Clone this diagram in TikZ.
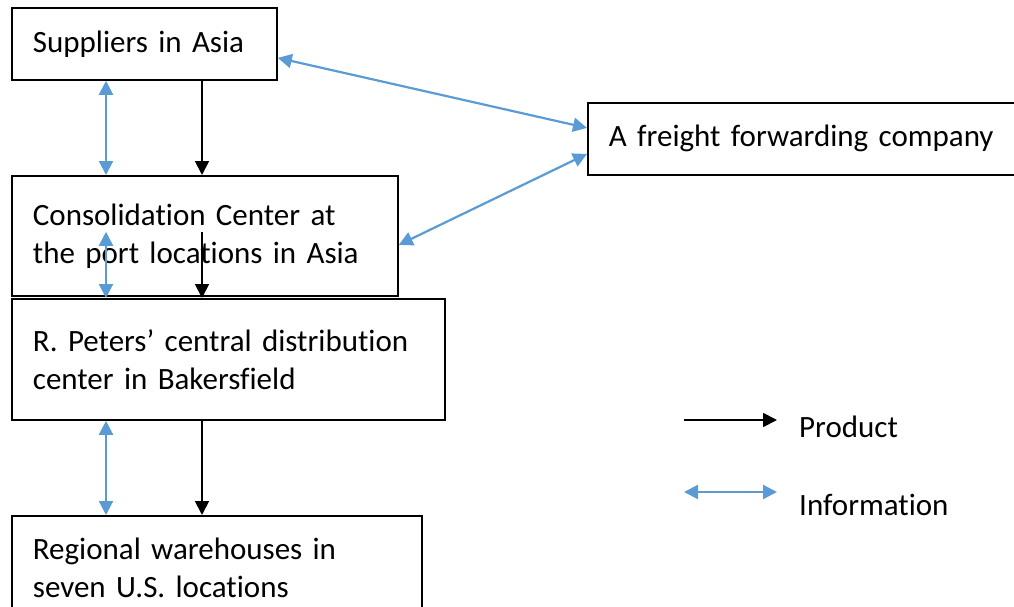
\documentclass[tikz,border=0pt]{standalone}
\usepackage{fontspec}
\setmainfont[Ligatures=NoCommon,WordSpace=0.75]{Carlito}
\usetikzlibrary{positioning,arrows.meta,calc}
\definecolor{infoblue}{HTML}{5B9BD5}

\begin{document}
\begin{tikzpicture}[x=1pt,y=-1pt,
  box/.style={draw=black,line width=1.8pt,anchor=north west,align=left,inner xsep=21pt,
              inner ysep=0pt,font=\fontsize{31}{38}\selectfont},
  prod/.style={-{Triangle[length=14pt,width=14pt]},black,line width=1.8pt},
  info/.style={{Triangle[length=14pt,width=14pt]}-{Triangle[length=14pt,width=14pt]},
               infoblue,line width=2.2pt},
  lbl/.style={anchor=base west,font=\fontsize{31}{38}\selectfont,inner sep=0pt}]
\useasboundingbox (0,0) rectangle (1014,607);
\node[box,minimum width=265pt,minimum height=72pt,text width=223pt] (sup) at (11,7) {Suppliers in Asia};
\node[box,minimum width=386pt,minimum height=120pt,text width=344pt] (cons) at (11,175)
  {Consolidation Center at\\the port locations in Asia\par\vspace{8pt}};
\node[box,minimum width=433pt,minimum height=121pt,text width=391pt] (cdc) at (11,298)
  {R. Peters' central distribution\\center in Bakersfield\par\vspace{8pt}};
\node[box,minimum width=410pt,minimum height=103pt,text width=368pt] (reg) at (11,515)
  {Regional warehouses in\\seven U.S. locations};
\node[box,minimum width=440pt,minimum height=72pt,text width=398pt] (ffc) at (587,102) {A freight forwarding company};
% columns for the vertical links
\coordinate (icol) at (106,0);
\coordinate (pcol) at (202,0);
\draw[info] (sup.south -| icol) -- (cons.north -| icol);
\draw[prod] (sup.south -| pcol) -- (cons.north -| pcol);
\draw[info] (cons.south -| icol) ++(0,-65) -- (cdc.north -| icol);
\draw[prod] (cons.south -| pcol) ++(0,-65) -- (cdc.north -| pcol);
\draw[info] (cdc.south -| icol) -- (reg.north -| icol);
\draw[prod] (cdc.south -| pcol) -- (reg.north -| pcol);
% links to the forwarder
\draw[info] ([yshift=-14pt]sup.east) -- ([yshift=11pt]ffc.west);
\draw[info] ([yshift=-9pt]cons.east) -- ([yshift=-15pt]ffc.west);
% legend
\coordinate (pa) at (684,420);
\coordinate (pb) at (777,420);
\coordinate (ia) at (684,492);
\coordinate (ib) at (777,492);
\draw[prod] (pa) -- (pb);
\draw[info] (ia) -- (ib);
\node[lbl] (plbl) at (799,437) {Product};
\node[lbl] (ilbl) at (799,515) {Information};
\end{tikzpicture}
\end{document}
